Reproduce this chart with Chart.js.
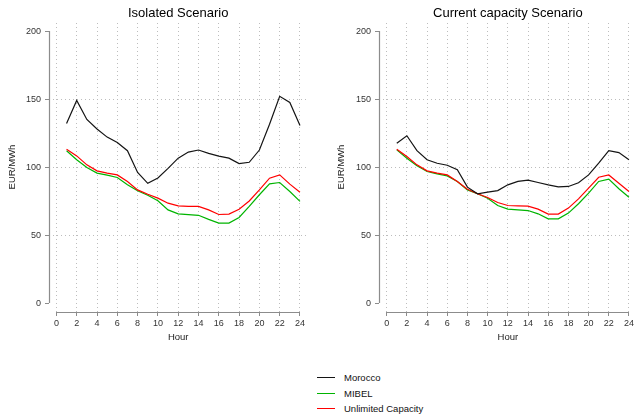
<!DOCTYPE html>
<html>
<head>
<meta charset="utf-8">
<script src="https://cdn.jsdelivr.net/npm/chart.js@4/dist/chart.umd.min.js"></script>
<style>
  body { margin: 0; background: #fff; font-family: "Liberation Sans", Arial, sans-serif; }
  #wrap { position: relative; width: 636px; height: 415px; }
  canvas { position: absolute; top: 0; }
  #left { left: 0; }
  #right { left: 318px; }
  .legend { position: absolute; left: 317px; top: 370px; font-size: 9.5px; color: #111; }
  .row { position: relative; height: 15.5px; line-height: 15.5px; padding-left: 27px; white-space: nowrap; }
  .swatch { position: absolute; left: 0; top: 7px; width: 18px; height: 1px; }
</style>
</head>
<body>
<div id="wrap">
  <canvas id="left" width="318" height="350"></canvas>
  <canvas id="right" width="318" height="350"></canvas>
  <div class="legend">
    <div class="row"><span class="swatch" style="background:#141414"></span>Morocco</div>
    <div class="row"><span class="swatch" style="background:#00b400"></span>MIBEL</div>
    <div class="row"><span class="swatch" style="background:#ff0000"></span>Unlimited Capacity</div>
  </div>
</div>
<script>
// Data
const hours = [1, 2, 3, 4, 5, 6, 7, 8, 9, 10, 11, 12, 13, 14, 15, 16, 17, 18, 19, 20, 21, 22, 23, 24];

const isoMorocco   = [132, 149, 135, 128, 122, 118, 112, 96, 88, 92, 99, 106.5, 111, 112.5, 110, 108, 106.5, 102.5, 103.5, 112.5, 131.5, 152, 147.5, 130.5];
const isoMibel     = [112, 105.3, 99.6, 95.5, 94, 92.3, 87, 82.5, 79.2, 75.2, 68.5, 65.6, 65, 64.5, 61.5, 58.8, 58.8, 62.9, 71, 79.6, 87.6, 88.6, 82, 74.7];
const isoUnlimited = [113, 108.2, 101.6, 97.2, 95.5, 94.2, 89.4, 83.2, 80, 77.1, 73.4, 71.5, 71, 71, 68.5, 65.1, 65.4, 69, 75, 83.2, 91.8, 94.2, 87.4, 81.5];

const curMorocco   = [117.5, 123, 112, 105.3, 102.8, 101.3, 98, 85.2, 80.3, 81.5, 82.7, 86.9, 89.4, 90.3, 88.6, 86.9, 85.4, 85.7, 88.4, 94.2, 102.8, 112, 110.6, 105.3];
const curMibel     = [112.6, 106.5, 100.9, 96.7, 95, 93.5, 89.4, 83.2, 80.3, 77.1, 71.7, 69, 68.5, 68, 65.6, 61.9, 61.9, 66.1, 73, 80.8, 89.4, 91.1, 84, 77.8];
const curUnlimited = [113.1, 107.7, 101.6, 97.2, 95.5, 94.2, 89.4, 83.7, 80.3, 77.6, 73.9, 71.7, 71.5, 71.2, 69, 65.4, 65.4, 69.8, 76.6, 84.5, 92.5, 94.2, 88.1, 82];

const COLORS = { morocco: '#141414', mibel: '#00b400', unlimited: '#ff0000' };
const FONT = '"Liberation Sans", Arial, sans-serif';

// Draws axis lines and the text around the plot
const framePlugin = {
    id: 'frame',
    afterDraw(chart, args, opts) {
        const { ctx, chartArea } = chart;
        const x = chart.scales.x, y = chart.scales.y;
        ctx.save();
        ctx.strokeStyle = '#8c8c8c';
        ctx.lineWidth = 1.2;
        ctx.beginPath();
        ctx.moveTo(chartArea.left + 0.5, y.getPixelForValue(0));
        ctx.lineTo(chartArea.left + 0.5, y.getPixelForValue(200));
        ctx.moveTo(x.getPixelForValue(0), chartArea.bottom + 0.5);
        ctx.lineTo(x.getPixelForValue(24), chartArea.bottom + 0.5);
        ctx.stroke();

        const cx = (x.getPixelForValue(0) + x.getPixelForValue(24)) / 2;
        ctx.fillStyle = '#000';
        ctx.textAlign = 'center';
        ctx.textBaseline = 'middle';
        ctx.font = '13px ' + FONT;
        ctx.fillText(opts.title, cx, 13);
        ctx.fillStyle = '#222';
        ctx.font = '9.5px ' + FONT;
        ctx.fillText('Hour', cx, 337);
        ctx.translate(opts.yTitleX, (y.getPixelForValue(0) + y.getPixelForValue(200)) / 2);
        ctx.rotate(-Math.PI / 2);
        ctx.fillText('EUR/MWh', 0, 0);
        ctx.restore();
    }
};

function series(label, data, color) {
    return {
        label: label,
        data: hours.map((h, i) => ({ x: h, y: data[i] })),
        borderColor: color,
        backgroundColor: color,
        borderWidth: 1.2,
        pointRadius: 0,
        tension: 0,
        fill: false
    };
}

function makeChart(id, opts) {
    return new Chart(document.getElementById(id), {
        type: 'line',
        data: {
            datasets: [
                series('Morocco', opts.morocco, COLORS.morocco),
                series('Unlimited Capacity', opts.unlimited, COLORS.unlimited),
                series('MIBEL', opts.mibel, COLORS.mibel)
            ]
        },
        options: {
            responsive: false,
            animation: false,
            layout: { padding: { top: 23, right: opts.padRight, bottom: 0, left: 0 } },
            plugins: {
                legend: { display: false },
                tooltip: { enabled: false },
                title: { display: false },
                frame: { title: opts.title, yTitleX: opts.yTitleX }
            },
            scales: {
                x: {
                    type: 'linear',
                    min: opts.xMin,
                    max: opts.xMax,
                    afterFit: s => { s.height = 38; },
                    border: { display: false, dash: [1, 3] },
                    grid: {
                        color: '#bdbdbd',
                        tickColor: '#8c8c8c',
                        tickLength: 4,
                        tickBorderDash: []
                    },
                    ticks: {
                        stepSize: 2,
                        includeBounds: false,
                        autoSkip: false,
                        maxRotation: 0,
                        padding: 2,
                        color: '#333',
                        font: { family: FONT, size: 9 }
                    }
                },
                y: {
                    min: -6.6,
                    max: 205.9,
                    afterFit: s => { s.width = opts.yWidth; },
                    border: { display: false, dash: [1, 3] },
                    grid: {
                        color: c => (c.tick && (c.tick.value === 0 || c.tick.value === 200)) ? 'rgba(0,0,0,0)' : '#bdbdbd',
                        tickColor: '#8c8c8c',
                        tickLength: 4,
                        tickBorderDash: []
                    },
                    ticks: {
                        stepSize: 50,
                        includeBounds: false,
                        padding: 4,
                        color: '#333',
                        font: { family: FONT, size: 9 }
                    }
                }
            }
        },
        plugins: [framePlugin]
    });
}

makeChart('left', {
    title: 'Isolated Scenario',
    morocco: isoMorocco, mibel: isoMibel, unlimited: isoUnlimited,
    yWidth: 49, padRight: 10, xMin: -0.73, xMax: 24.79, yTitleX: 12
});

makeChart('right', {
    title: 'Current capacity Scenario',
    morocco: curMorocco, mibel: curMibel, unlimited: curUnlimited,
    yWidth: 61, padRight: 3, xMin: -0.76, xMax: 24.2, yTitleX: 23
});
</script>
</body>
</html>
